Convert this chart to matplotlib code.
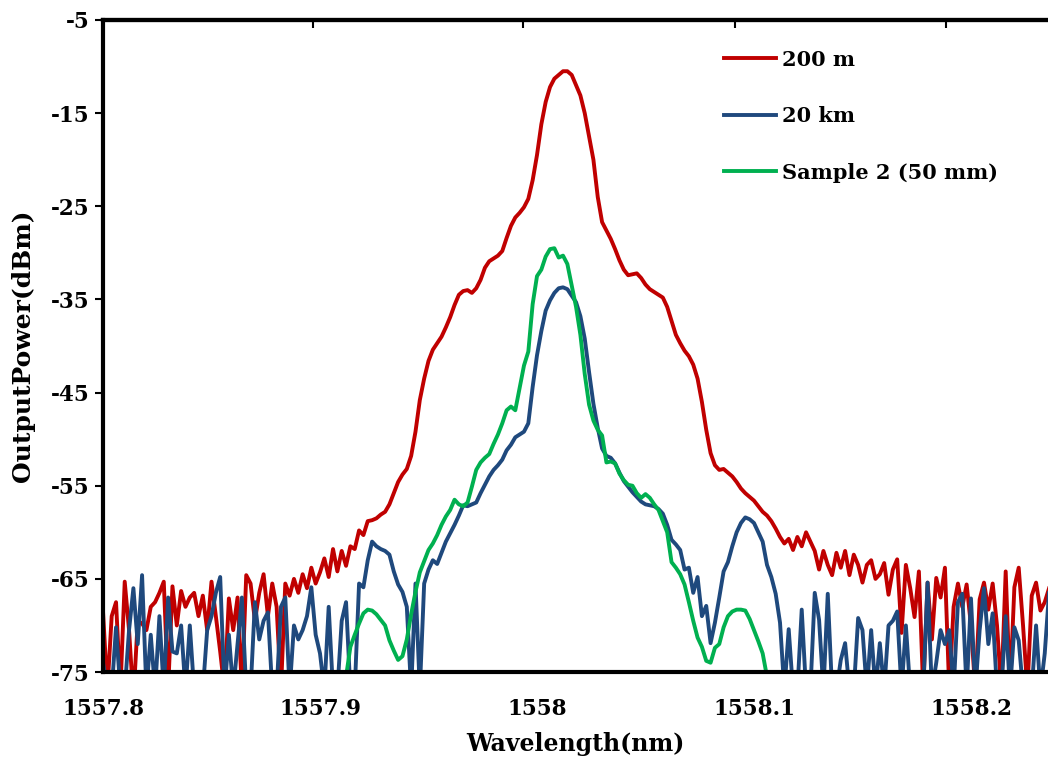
import numpy as np
import matplotlib
matplotlib.use("Agg")
import matplotlib.pyplot as plt

plt.rcParams['font.family'] = ['DejaVu Serif']
plt.rcParams['font.weight'] = 'bold'
plt.rcParams['axes.unicode_minus'] = False

# OSA sampling grid, 0.002 nm per point
wl_start = 1557.800
wl_step = 0.002
n_pts = 219

# 200 m (dBm), one value per grid point
p_200m = [
    -68.5, -77, -69, -67.5, -77, -65.3, -70.5, -78, -69.5, -69.8,
    -70.5, -68, -67.5, -66.5, -65.3, -77, -65.8, -70, -66.3, -68,
    -67, -66.5, -69, -66.8, -70.5, -65.3, -69, -72.8, -77, -67.1,
    -70.5, -67, -77, -64.6, -65.5, -69.5, -66.5, -64.5, -69, -65.5,
    -68, -77, -65.5, -66.8, -65, -66.5, -64.5, -66, -63.8, -65.5,
    -64.3, -62.8, -64.8, -61.8, -64.2, -62, -63.6, -61.5, -61.8, -59.8,
    -60.3, -58.8, -58.7, -58.5, -58.1, -57.8, -57, -55.8, -54.6, -53.8,
    -53.2, -51.8, -49.2, -45.8, -43.5, -41.6, -40.4, -39.7, -39, -38,
    -36.9, -35.6, -34.5, -34.1, -34, -34.3, -33.8, -32.9, -31.6, -30.9,
    -30.6, -30.3, -29.8, -28.4, -27.1, -26.2, -25.7, -25.1, -24.2, -22.2,
    -19.5, -16.2, -13.8, -12.2, -11.3, -10.9, -10.5, -10.5, -10.9, -12,
    -13.1, -15, -17.5, -20, -24, -26.7, -27.6, -28.5, -29.6, -30.8,
    -31.8, -32.4, -32.3, -32.2, -32.7, -33.4, -33.9, -34.2, -34.5, -34.8,
    -35.8, -37.3, -38.8, -39.7, -40.5, -41.1, -42, -43.5, -46, -49,
    -51.5, -52.8, -53.3, -53.2, -53.6, -54, -54.6, -55.3, -55.8, -56.2,
    -56.6, -57.2, -57.8, -58.2, -58.8, -59.6, -60.5, -61.2, -60.7, -61.9,
    -60.5, -61.5, -60, -61, -62, -64, -62, -63.5, -64.6, -62.2,
    -63.8, -62, -64.6, -62.4, -63.5, -65.4, -63.5, -63, -65, -64.5,
    -63.3, -66.7, -64, -62.9, -70.8, -63.5, -66, -69.1, -64.2, -77,
    -65.4, -71.5, -64.9, -67, -63.8, -77, -68, -65.5, -68, -65.6,
    -70, -77, -67.2, -65.4, -68.3, -65.5, -70, -77, -64.2, -77,
    -65.9, -63.8, -70, -77, -66.8, -65.4, -68.4, -67.5, -66,
]

# 20 km (dBm)
p_20km = [
    -74, -77, -77, -70.2, -77, -77, -70.5, -66, -72, -64.6,
    -77, -71, -77, -69, -77, -67, -72.8, -73, -70, -77,
    -70, -77, -77, -77, -70.5, -69, -66.5, -64.8, -77, -71,
    -77, -72, -67, -77, -77, -67.5, -71.5, -69.5, -68.6, -77,
    -77, -68, -67, -77, -70, -71.5, -70.5, -69, -65.9, -71,
    -73, -77, -68, -77, -77, -69.5, -67.5, -77, -77, -65.5,
    -65.9, -63, -61, -61.5, -61.8, -62, -62.4, -64.2, -65.6, -66.4,
    -68, -77, -65.5, -77, -65.5, -64, -63, -63.4, -62.2, -61,
    -60.1, -59.2, -58.2, -57.1, -57.2, -57, -56.8, -55.8, -54.9, -54,
    -53.3, -52.8, -52.2, -51.2, -50.6, -49.8, -49.5, -49.2, -48.3, -44.4,
    -41, -38.4, -36.2, -35.1, -34.3, -33.8, -33.7, -33.9, -34.6, -35.3,
    -36.8, -39.2, -42.8, -46.2, -48.8, -51, -51.8, -52, -52.6, -53.6,
    -54.5, -55.1, -55.7, -56.2, -56.7, -57, -57.1, -57.2, -57.5, -58,
    -59.2, -60.8, -61.3, -61.9, -64, -63.8, -66.5, -64.8, -69, -67.9,
    -71.9, -69.7, -67, -64.2, -63.2, -61.5, -60, -59, -58.4, -58.6,
    -59, -60, -61, -63.5, -64.8, -66.6, -69.7, -77, -70.4, -77,
    -77, -68.3, -77, -77, -66.5, -69.4, -77, -66.6, -77, -77,
    -73.7, -71.9, -77, -77, -69.2, -70.5, -77, -70.5, -77, -71.9,
    -77, -70, -69.5, -68.5, -77, -70, -77, -77, -77, -77,
    -65.4, -77, -74, -70.5, -72, -70.5, -77, -67.5, -66.6, -77,
    -67.1, -77, -70.5, -66, -72, -68.7, -77, -77, -69, -77,
    -70.2, -71.6, -77, -77, -77, -70, -77, -73, -66.4,
]

# Sample 2 (50 mm), grid points 55 to 154
s2_first = 55
p_sample2 = [
    -77, -75.5, -72.3, -71, -69.8, -68.7, -68.3, -68.4, -68.8, -69.4,
    -70, -71.6, -72.7, -73.7, -73.3, -71.5, -68.8, -66.4, -64.3, -63.1,
    -61.9, -61.2, -60.3, -59.2, -58.3, -57.6, -56.5, -57, -57.2, -56.8,
    -55.1, -53.3, -52.5, -52, -51.6, -50.5, -49.5, -48.3, -46.9, -46.5,
    -46.9, -44.5, -42.1, -40.6, -35.5, -32.5, -31.8, -30.4, -29.6, -29.5,
    -30.5, -30.3, -31.2, -33.5, -35.8, -38.8, -43, -46.3, -48, -49,
    -49.6, -52.5, -52.4, -52.6, -53.7, -54.4, -54.9, -55, -55.8, -56.3,
    -55.9, -56.3, -57, -57.6, -58.8, -60, -63.2, -63.8, -64.5, -65.6,
    -67.5, -69.5, -71.3, -72.3, -73.8, -74, -72.4, -72, -70.2, -69,
    -68.5, -68.3, -68.3, -68.4, -69.3, -70.5, -71.7, -73, -75.5, -78,
]

labels = ['200 m', '20 km', 'Sample 2 (50 mm)']
colors = ['#C00000', '#1F497D', '#00B050']

wl = wl_start + wl_step * np.arange(n_pts)
wl_s2 = wl[s2_first:s2_first + len(p_sample2)]

fig = plt.figure(figsize=(10.48, 7.69), dpi=100)
ax = fig.add_axes([0.0983, 0.1261, 0.9017, 0.8479])

ax.plot(wl, p_200m, color=colors[0], lw=2.8, label=labels[0])
ax.plot(wl, p_20km, color=colors[1], lw=2.8, label=labels[1])
ax.plot(wl_s2, p_sample2, color=colors[2], lw=2.8, label=labels[2])

ax.set_xlim(1557.8, 1558.2355)
ax.set_ylim(-75, -5)
ax.set_xticks([1557.8, 1557.9, 1558.0, 1558.1, 1558.2])
ax.set_xticklabels(['1557.8', '1557.9', '1558', '1558.1', '1558.2'])
ax.set_yticks(np.arange(-75, 0, 10))

for s in ['left', 'top', 'bottom']:
    ax.spines[s].set_linewidth(3)
    ax.spines[s].set_color('black')
ax.spines['right'].set_visible(False)

ax.tick_params(axis='y', direction='out', length=6, width=1.5, labelsize=15.5, pad=4)
ax.tick_params(axis='x', length=0, labelsize=15.5, pad=19)

# little marks on the top edge
sec = ax.secondary_xaxis('top')
sec.set_xticks([1557.8968, 1557.9935, 1558.0912, 1558.1885])
sec.tick_params(direction='in', length=6, width=1.5, labeltop=False)
sec.spines['top'].set_linewidth(3)

ax.set_xlabel('Wavelength(nm)', fontsize=17, fontweight='bold', labelpad=8)
ax.set_ylabel('OutputPower(dBm)', fontsize=18, fontweight='bold', labelpad=11)

ax.legend(loc='upper left', bbox_to_anchor=(0.681, 0.949), bbox_transform=fig.transFigure,
          frameon=False, fontsize=15, handlelength=2.5, handletextpad=0.3,
          labelspacing=1.75, borderpad=0)

fig.savefig('out.png', dpi=100)
